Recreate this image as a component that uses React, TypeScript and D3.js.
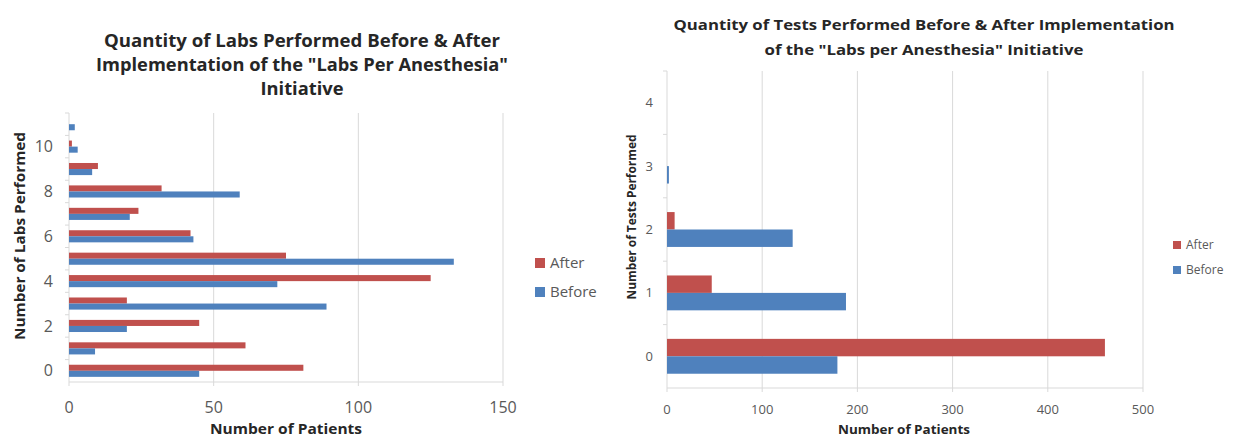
import React from "react";
import * as d3 from "d3";

// ---- Left chart data ----
const labCategories = [0, 1, 2, 3, 4, 5, 6, 7, 8, 9, 10, 11];
const labsAfter = [81, 61, 45, 20, 125, 75, 42, 24, 32, 10, 1, 0];
const labsBefore = [45, 9, 20, 89, 72, 133, 43, 21, 59, 8, 3, 2];
const labXTicks = [0, 50, 100, 150];
const labYTickLabels = [0, 2, 4, 6, 8, 10];

// ---- Right chart data ----
const testCategories = [0, 1, 2, 3, 4];
const testsAfter = [460, 47, 8, 0, 0];
const testsBefore = [179, 188, 132, 2, 0];
const testXTicks = [0, 100, 200, 300, 400, 500];
const testYTickLabels = [0, 1, 2, 3, 4];

const seriesNames = ["After", "Before"];
const RED = "#C0504D";
const BLUE = "#4F81BD";
const GRID = "#D9D9D9";
const TICK = "#595959";
const FONT = "'Open Sans', 'Liberation Sans', sans-serif";

type PanelProps = {
  cats: number[];
  after: number[];
  before: number[];
  xTicks: number[];
  yLabels: number[];
  x0: number; x1: number; y0: number; y1: number; xMax: number;
  groupFrac: number;
  titleLines: { text: string; y: number; len: number }[];
  titleX: number; titleSize: number;
  yTitle: string; yTitleX: number; yTitleY: number; yTitleLen: number; yTitleSize: number;
  xTitle: string; xTitleX: number; xTitleY: number; xTitleLen: number; xTitleSize: number;
  tickSize: number; yLabelX: number; xLabelY: number;
  legendX: number; legendY: number[]; legendSize: number; legendSq: number;
};

function Panel(p: PanelProps) {
  const x = d3.scaleLinear().domain([0, p.xMax]).range([p.x0, p.x1]);
  const y = d3.scaleBand<number>().domain(p.cats).range([p.y1, p.y0]);
  const bw = y.bandwidth();
  const groupH = bw * p.groupFrac;
  const barH = groupH / 2;
  const sub = (c: number, i: number) => (y(c) as number) + (bw - groupH) / 2 + i * barH;
  const series = [p.after, p.before];
  const colors = [RED, BLUE];
  return (
    <g>
      {p.titleLines.map((t, i) => (
        <text key={i} x={p.titleX} y={t.y} textAnchor="middle" fontFamily={FONT} fontWeight="bold"
          fontSize={p.titleSize} fill="#262626" textLength={t.len} lengthAdjust="spacingAndGlyphs">{t.text}</text>
      ))}
      {p.xTicks.filter((t) => t > 0).map((t) => (
        <line key={t} x1={x(t)} x2={x(t)} y1={p.y0} y2={p.y1} stroke={GRID} strokeWidth={1} />
      ))}
      <line x1={p.x0} x2={p.x1} y1={p.y1} y2={p.y1} stroke={GRID} strokeWidth={1} />
      <line x1={p.x0} x2={p.x0} y1={p.y0} y2={p.y1} stroke={GRID} strokeWidth={1} />
      {p.cats.map((c) => (
        <line key={"t" + c} x1={p.x0 - 4} x2={p.x0} y1={(y(c) as number)} y2={(y(c) as number)} stroke={GRID} />
      ))}
      {p.xTicks.map((t) => (
        <line key={"xt" + t} x1={x(t)} x2={x(t)} y1={p.y1} y2={p.y1 + 4} stroke={GRID} />
      ))}
      {series.map((s, si) =>
        p.cats.map((c, ci) =>
          s[ci] > 0 ? (
            <rect key={si + "-" + c} x={x(0)} y={sub(c, si)} width={x(s[ci]) - x(0)} height={barH} fill={colors[si]} />
          ) : null
        )
      )}
      {p.yLabels.map((l) => (
        <text key={"yl" + l} x={p.yLabelX} y={(y(l) as number) + bw / 2} dy="0.35em" textAnchor="end"
          fontFamily={FONT} fontSize={p.tickSize} fill={TICK}>{l}</text>
      ))}
      {p.xTicks.map((t) => (
        <text key={"xl" + t} x={x(t)} y={p.xLabelY} dy="0.35em" textAnchor="middle"
          fontFamily={FONT} fontSize={p.tickSize} fill={TICK}>{t}</text>
      ))}
      <text x={p.xTitleX} y={p.xTitleY} dy="0.35em" textAnchor="middle" fontFamily={FONT} fontWeight="bold"
        fontSize={p.xTitleSize} fill="#262626" textLength={p.xTitleLen} lengthAdjust="spacingAndGlyphs">{p.xTitle}</text>
      <text transform={`translate(${p.yTitleX},${p.yTitleY}) rotate(-90)`} dy="0.35em" textAnchor="middle"
        fontFamily={FONT} fontWeight="bold" fontSize={p.yTitleSize} fill="#262626"
        textLength={p.yTitleLen} lengthAdjust="spacingAndGlyphs">{p.yTitle}</text>
      {seriesNames.map((n, i) => (
        <g key={n}>
          <rect x={p.legendX} y={p.legendY[i] - p.legendSq / 2} width={p.legendSq} height={p.legendSq} fill={colors[i]} />
          <text x={p.legendX + p.legendSq + 5} y={p.legendY[i]} dy="0.35em" fontFamily={FONT}
            fontSize={p.legendSize} fill={TICK}>{n}</text>
        </g>
      ))}
    </g>
  );
}

export default function App() {
  return (
    <svg width={1235} height={439} style={{ position: "absolute", left: 0, top: 0, background: "#fff" }}>
      <rect width={1235} height={439} fill="#fff" />
      <Panel
        cats={labCategories} after={labsAfter} before={labsBefore} xTicks={labXTicks} yLabels={labYTickLabels}
        x0={69} x1={503} y0={113} y1={382} xMax={150} groupFrac={0.54}
        titleLines={[
          { text: "Quantity of Labs Performed Before & After", y: 47, len: 396 },
          { text: "Implementation of the \"Labs Per Anesthesia\"", y: 71, len: 412 },
          { text: "Initiative", y: 95, len: 83 },
        ]}
        titleX={302} titleSize={17}
        yTitle="Number of Labs Performed" yTitleX={20} yTitleY={236} yTitleLen={208} yTitleSize={15}
        xTitle="Number of Patients" xTitleX={286} xTitleY={429} xTitleLen={152} xTitleSize={15}
        tickSize={16} yLabelX={53} xLabelY={407}
        legendX={535} legendY={[263, 292]} legendSize={15} legendSq={10}
      />
      <Panel
        cats={testCategories} after={testsAfter} before={testsBefore} xTicks={testXTicks} yLabels={testYTickLabels}
        x0={667} x1={1143} y0={71} y1={388} xMax={500} groupFrac={0.55}
        titleLines={[
          { text: "Quantity of Tests Performed Before & After Implementation", y: 30, len: 501 },
          { text: "of the \"Labs per Anesthesia\" Initiative", y: 55, len: 319 },
        ]}
        titleX={924} titleSize={14}
        yTitle="Number of Tests Performed" yTitleX={632} yTitleY={217} yTitleLen={165} yTitleSize={12}
        xTitle="Number of Patients" xTitleX={904} xTitleY={430} xTitleLen={132} xTitleSize={12}
        tickSize={13} yLabelX={653} xLabelY={409}
        legendX={1173} legendY={[245, 270]} legendSize={12} legendSq={8}
      />
    </svg>
  );
}
